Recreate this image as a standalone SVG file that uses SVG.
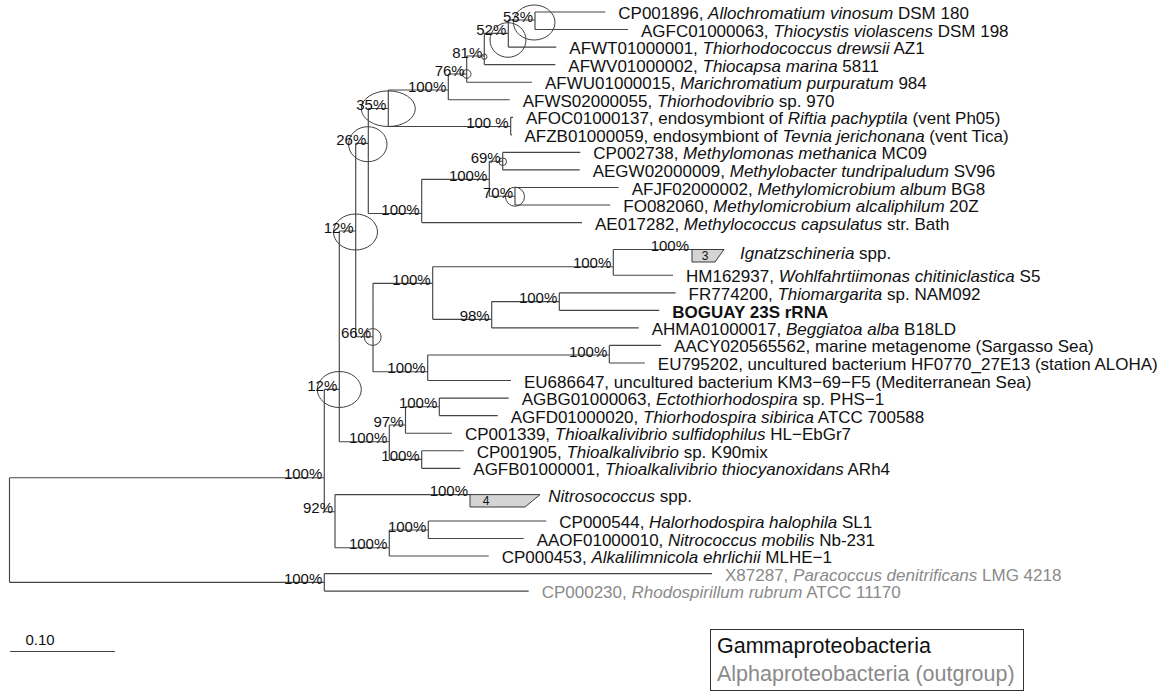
<svg xmlns="http://www.w3.org/2000/svg" width="1167" height="692" viewBox="0 0 1167 692">
<style>
.br{fill:none;stroke:#454545;stroke-width:1.15}
.ell{fill:none;stroke:#404040;stroke-width:1}
.tip{font-family:"Liberation Sans",Arial,sans-serif;font-size:17px;fill:#111}
.og{fill:#8a8a8a}
.bs{font-family:"Liberation Sans",Arial,sans-serif;font-size:15px;fill:#111;text-anchor:end}
.it{font-style:italic}
.clps{fill:#d4d4d4;stroke:#3a3a3a;stroke-width:1}
.cn{font-family:"Liberation Sans",Arial,sans-serif;font-size:12px;fill:#111;text-anchor:middle}
.leg{font-family:"Liberation Sans",Arial,sans-serif;font-size:21.5px}
</style>
<rect width="1167" height="692" fill="#fff"/>
<g id="connectors">
<path class="br" d="M9.5 477.7V582.3M9.5 477.7H324.3M9.5 582.3H324.3
M324.3 573.6V591.1M324.3 573.6H712M324.3 591.1H528.7
M324.3 389.3V511.7M324.3 389.3H339.3M324.3 511.7H335
M339.3 231V441.7M339.3 231H355.7M339.3 441.7H389.3
M355.7 143.3V336.7M355.7 143.3H368.3M355.7 336.7H373
M368.3 108.5V213.5M368.3 108.5H388.3M368.3 213.5H421.7
M388.3 90V126.5M388.3 90H448.3M388.3 126.5H510.7
M448.3 74V99.7M448.3 74H466.7M448.3 99.7H509.7
M466.7 56V82.2M466.7 56H484.3M466.7 82.2H532
M484.3 33.3V64.6M484.3 33.3H508.3M484.3 64.6H555.3
M508.3 20V47.1M508.3 20H535M508.3 47.1H556.3
M535 12V29.5M535 12H605.3M535 29.5H628
M510.7 117.3V134.8M510.7 117.3H513M510.7 134.8H512
M421.7 179.3V222.6M421.7 179.3H489.3M421.7 222.6H582
M489.3 161.2V196.2M489.3 161.2H502.7M489.3 196.2H515
M502.7 152.4V169.9M502.7 152.4H580.3M502.7 169.9H579.7
M515 187.5V205M515 187.5H618.7M515 205H610.3
M373 283.3V371.7M373 283.3H432.7M373 371.7H427.7
M432.7 266.7V319.3M432.7 266.7H613.3M432.7 319.3H491.7
M613.3 249.5V275.2M613.3 249.5H692M613.3 275.2H673
M491.7 301.6V327.9M491.7 301.6H559.3M491.7 327.9H638.7
M559.3 292.8V310.3M559.3 292.8H675.6M559.3 310.3H659.3
M427.7 355V380.5M427.7 355H609.3M427.7 380.5H511
M609.3 345.4V363M609.3 345.4H661.1M609.3 363H644.8
M389.3 425V459.3M389.3 425H405.5M389.3 459.3H421.7
M405.5 406.7V433.2M405.5 406.7H439.3M405.5 433.2H452
M439.3 398.1V415.6M439.3 398.1H508.7M439.3 415.6H497.7
M421.7 450.7V468.3M421.7 450.7H463.7M421.7 468.3H460.3
M335 494.6V547.7M335 494.6H470M335 547.7H389.3
M389.3 530V556M389.3 530H428.3M389.3 556H488.7
M428.3 521V538.5M428.3 521H546.3M428.3 538.5H523.7"/>
</g>
<g id="internal-nodes">
<g id="n53"><ellipse class="ell" cx="534.2" cy="22.5" rx="20.8" ry="17.5"/><text class="bs" x="533" y="21.5">53%</text></g>
<g id="n52"><ellipse class="ell" cx="508" cy="40" rx="18" ry="17.3"/><text class="bs" x="506.3" y="34.8">52%</text></g>
<g id="n81"><circle class="ell" cx="484.3" cy="56.7" r="2.7"/><text class="bs" x="482.3" y="57.5">81%</text></g>
<g id="n76"><circle class="ell" cx="466.7" cy="74" r="4.3"/><text class="bs" x="464.7" y="75.5">76%</text></g>
<g id="n-chrom"><text class="bs" x="446.3" y="91.5">100%</text></g>
<g id="n35"><ellipse class="ell" cx="388.3" cy="108.7" rx="27" ry="17.8"/><text class="bs" x="386.3" y="110">35%</text></g>
<g id="n-endo"><text class="bs" x="508.7" y="128">100 %</text></g>
<g id="n26"><ellipse class="ell" cx="367.8" cy="144.2" rx="19.2" ry="17.5"/><text class="bs" x="366.3" y="144.8">26%</text></g>
<g id="n12u"><ellipse class="ell" cx="355.5" cy="232" rx="22" ry="18"/><text class="bs" x="353.7" y="232.5">12%</text></g>
<g id="n-meth"><text class="bs" x="419.7" y="215">100%</text></g>
<g id="n-meth2"><text class="bs" x="487.3" y="180.8">100%</text></g>
<g id="n69"><circle class="ell" cx="502.7" cy="161.7" r="3.8"/><text class="bs" x="500.7" y="162.7">69%</text></g>
<g id="n70"><circle class="ell" cx="515" cy="196.7" r="9.5"/><text class="bs" x="513" y="197.7">70%</text></g>
<g id="n66"><circle class="ell" cx="372.7" cy="337" r="8.4"/><text class="bs" x="371" y="338.2">66%</text></g>
<g id="n-thiotrich"><text class="bs" x="430.7" y="284.8">100%</text></g>
<g id="n-ignwoh"><text class="bs" x="611.3" y="268.2">100%</text></g>
<g id="n98"><text class="bs" x="489.7" y="320.8">98%</text></g>
<g id="n-thiomarg"><text class="bs" x="557.3" y="303.1">100%</text></g>
<g id="n-sar"><text class="bs" x="425.7" y="373.2">100%</text></g>
<g id="n-marine"><text class="bs" x="607.3" y="356.5">100%</text></g>
<g id="n12l"><ellipse class="ell" cx="339.3" cy="389.5" rx="22" ry="18"/><text class="bs" x="337.3" y="390.8">12%</text></g>
<g id="n-ecto"><text class="bs" x="387.3" y="443.2">100%</text></g>
<g id="n97"><text class="bs" x="403.5" y="426.5">97%</text></g>
<g id="n-ectothio"><text class="bs" x="437.3" y="408.2">100%</text></g>
<g id="n-thioalk"><text class="bs" x="419.7" y="460.8">100%</text></g>
<g id="n-gamma"><text class="bs" x="322.3" y="479.2">100%</text></g>
<g id="n92"><text class="bs" x="333" y="513.2">92%</text></g>
<g id="n-halo"><text class="bs" x="387.3" y="549.2">100%</text></g>
<g id="n-halonitro"><text class="bs" x="426.3" y="531.5">100%</text></g>
<g id="n-alpha"><text class="bs" x="322.3" y="583.8">100%</text></g>
</g>
<g id="tips">
<g id="t-CP001896"><text class="tip" x="618.3" y="19">CP001896, <tspan class="it">Allochromatium vinosum</tspan> DSM 180</text></g>
<g id="t-AGFC01000063"><text class="tip" x="641" y="36.5">AGFC01000063, <tspan class="it">Thiocystis violascens</tspan> DSM 198</text></g>
<g id="t-AFWT01000001"><text class="tip" x="569.3" y="54.1">AFWT01000001, <tspan class="it">Thiorhodococcus drewsii</tspan> AZ1</text></g>
<g id="t-AFWV01000002"><text class="tip" x="568.3" y="71.6">AFWV01000002, <tspan class="it">Thiocapsa marina</tspan> 5811</text></g>
<g id="t-AFWU01000015"><text class="tip" x="545" y="89.2">AFWU01000015, <tspan class="it">Marichromatium purpuratum</tspan> 984</text></g>
<g id="t-AFWS02000055"><text class="tip" x="522.7" y="106.7">AFWS02000055, <tspan class="it">Thiorhodovibrio</tspan> sp. 970</text></g>
<g id="t-AFOC01000137"><text class="tip" x="526" y="124.3">AFOC01000137, endosymbiont of <tspan class="it">Riftia pachyptila</tspan> (vent Ph05)</text></g>
<g id="t-AFZB01000059"><text class="tip" x="524.5" y="141.8">AFZB01000059, endosymbiont of <tspan class="it">Tevnia jerichonana</tspan> (vent Tica)</text></g>
<g id="t-CP002738"><text class="tip" x="593.3" y="159.4">CP002738, <tspan class="it">Methylomonas methanica</tspan> MC09</text></g>
<g id="t-AEGW02000009"><text class="tip" x="592.7" y="176.9">AEGW02000009, <tspan class="it">Methylobacter tundripaludum</tspan> SV96</text></g>
<g id="t-AFJF02000002"><text class="tip" x="631.7" y="194.5">AFJF02000002, <tspan class="it">Methylomicrobium album</tspan> BG8</text></g>
<g id="t-FO082060"><text class="tip" x="623.3" y="212">FO082060, <tspan class="it">Methylomicrobium alcaliphilum</tspan> 20Z</text></g>
<g id="t-AE017282"><text class="tip" x="595" y="229.6">AE017282, <tspan class="it">Methylococcus capsulatus</tspan> str. Bath</text></g>
<g id="t-Ignatzschineria"><polygon class="clps" points="692,249.5 724,249.5 715,262 692,262"/><text class="cn" x="705" y="260.2">3</text><text class="bs" x="689" y="251">100%</text><text class="tip" x="740" y="259"><tspan class="it">Ignatzschineria</tspan> spp.</text></g>
<g id="t-HM162937"><text class="tip" x="686" y="282.2">HM162937, <tspan class="it">Wohlfahrtiimonas chitiniclastica</tspan> S5</text></g>
<g id="t-FR774200"><text class="tip" x="688.6" y="299.8">FR774200, <tspan class="it">Thiomargarita</tspan> sp. NAM092</text></g>
<g id="t-BOGUAY"><text class="tip" x="672.3" y="317.5" font-weight="bold" font-size="20">BOGUAY 23S rRNA</text></g>
<g id="t-AHMA01000017"><text class="tip" x="651.7" y="334.9">AHMA01000017, <tspan class="it">Beggiatoa alba</tspan> B18LD</text></g>
<g id="t-AACY020565562"><text class="tip" x="674.1" y="352.4">AACY020565562, marine metagenome (Sargasso Sea)</text></g>
<g id="t-EU795202"><text class="tip" x="657.8" y="370">EU795202, uncultured bacterium HF0770_27E13 (station ALOHA)</text></g>
<g id="t-EU686647"><text class="tip" x="524" y="387.5">EU686647, uncultured bacterium KM3−69−F5 (Mediterranean Sea)</text></g>
<g id="t-AGBG01000063"><text class="tip" x="521.7" y="405.1">AGBG01000063, <tspan class="it">Ectothiorhodospira</tspan> sp. PHS−1</text></g>
<g id="t-AGFD01000020"><text class="tip" x="510.7" y="422.6">AGFD01000020, <tspan class="it">Thiorhodospira sibirica</tspan> ATCC 700588</text></g>
<g id="t-CP001339"><text class="tip" x="465" y="440.2">CP001339, <tspan class="it">Thioalkalivibrio sulfidophilus</tspan> HL−EbGr7</text></g>
<g id="t-CP001905"><text class="tip" x="476.7" y="457.7">CP001905, <tspan class="it">Thioalkalivibrio</tspan> sp. K90mix</text></g>
<g id="t-AGFB01000001"><text class="tip" x="473.3" y="475.3">AGFB01000001, <tspan class="it">Thioalkalivibrio thiocyanoxidans</tspan> ARh4</text></g>
<g id="t-Nitrosococcus"><polygon class="clps" points="470,494.6 540,494.6 525,507 470,507"/><text class="cn" x="486" y="505.2">4</text><text class="bs" x="468" y="495.5">100%</text><text class="tip" x="548.3" y="502"><tspan class="it">Nitrosococcus</tspan> spp.</text></g>
<g id="t-CP000544"><text class="tip" x="559.3" y="528">CP000544, <tspan class="it">Halorhodospira halophila</tspan> SL1</text></g>
<g id="t-AAOF01000010"><text class="tip" x="536.7" y="545.5">AAOF01000010, <tspan class="it">Nitrococcus mobilis</tspan> Nb-231</text></g>
<g id="t-CP000453"><text class="tip" x="501.7" y="563">CP000453, <tspan class="it">Alkalilimnicola ehrlichii</tspan> MLHE−1</text></g>
<g id="t-X87287"><text class="tip og" x="725" y="580.6">X87287, <tspan class="it">Paracoccus denitrificans</tspan> LMG 4218</text></g>
<g id="t-CP000230"><text class="tip og" x="541.7" y="598.1">CP000230, <tspan class="it">Rhodospirillum rubrum</tspan> ATCC 11170</text></g>
</g>
<g id="scale-bar">
<path class="br" d="M10 651.5H115"/>
<text x="40" y="645" font-family="Liberation Sans, Arial, sans-serif" font-size="15" text-anchor="middle" fill="#111">0.10</text>
</g>
<g id="legend">
<rect x="710.5" y="629.5" width="313" height="61" fill="#fff" stroke="#333" stroke-width="1"/>
<text class="leg" x="717" y="653" fill="#111">Gammaproteobacteria</text>
<text class="leg" x="717" y="681" fill="#8a8a8a">Alphaproteobacteria (outgroup)</text>
</g>
</svg>
